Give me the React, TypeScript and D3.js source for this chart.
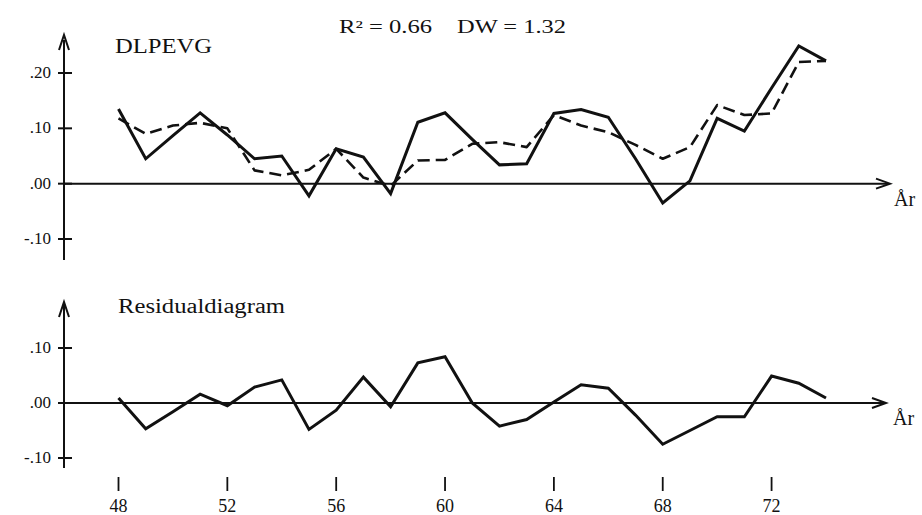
import React from "react";
import * as d3 from "d3";

const years = [48,49,50,51,52,53,54,55,56,57,58,59,60,61,62,63,64,65,66,67,68,69,70,71,72,73,74];
const actual = [0.135,0.045,0.087,0.128,0.088,0.045,0.05,-0.022,0.063,0.048,-0.018,0.111,0.128,0.08,0.034,0.036,0.127,0.134,0.12,0.045,-0.035,0.005,0.118,0.095,0.173,0.249,0.222];
const fitted = [0.118,0.09,0.105,0.11,0.1,0.024,0.015,0.025,0.063,0.011,-0.004,0.042,0.043,0.072,0.075,0.066,0.124,0.105,0.093,0.07,0.045,0.066,0.142,0.124,0.127,0.22,0.222];
const residuals = [0.009,-0.047,-0.016,0.016,-0.005,0.029,0.042,-0.048,-0.013,0.047,-0.007,0.073,0.084,0.0,-0.042,-0.03,0.002,0.033,0.027,-0.022,-0.075,-0.05,-0.025,-0.025,0.049,0.036,0.009];
const topTicks = [0.2,0.1,0,-0.1];
const topTickLabels = [".20",".10",".00","-.10"];
const botTicks = [0.1,0,-0.1];
const botTickLabels = [".10",".00","-.10"];
const xTicks = [48,52,56,60,64,68,72];
const xTickLabels = ["48","52","56","60","64","68","72"];

export default function App() {
  const x = d3.scaleLinear().domain([48, 74]).range([118.5, 826]);
  const yT = d3.scaleLinear().domain([-0.1, 0.2]).range([239, 73]);
  const yB = d3.scaleLinear().domain([-0.1, 0.1]).range([458, 348]);
  const lineT = d3.line<number>().x((_, i) => x(years[i])).y((d) => yT(d));
  const lineB = d3.line<number>().x((_, i) => x(years[i])).y((d) => yB(d));
  const font = "'Liberation Serif', 'DejaVu Serif', serif";
  const axisX = 64;
  const col = "#111";

  return (
    <svg width={922} height={515} style={{ position: "absolute", left: 0, top: 0, background: "#fff" }} fontFamily={font}>
      <rect width={922} height={515} fill="#fff" />
      {/* titles */}
      <text x={339} y={33} fontSize={18} fill={col} textLength={93} lengthAdjust="spacingAndGlyphs">R² = 0.66</text>
      <text x={457} y={33} fontSize={18} fill={col} textLength={109} lengthAdjust="spacingAndGlyphs">DW = 1.32</text>
      <text x={115} y={53} fontSize={22} fill={col} textLength={97} lengthAdjust="spacingAndGlyphs">DLPEVG</text>
      <text x={118} y={313} fontSize={20} fill={col} textLength={167} lengthAdjust="spacingAndGlyphs">Residualdiagram</text>

      {/* top axes */}
      <line x1={axisX} x2={axisX} y1={260} y2={40} stroke={col} strokeWidth={2} />
      <path d={`M${axisX - 5},${50} L${axisX},${35} L${axisX + 5},${50}`} fill="none" stroke={col} strokeWidth={2} />
      <line x1={axisX} x2={888} y1={yT(0)} y2={yT(0)} stroke={col} strokeWidth={2} />
      <path d={`M${876},${yT(0) - 5} L${890},${yT(0)} L${876},${yT(0) + 5}`} fill="none" stroke={col} strokeWidth={2} />
      <text x={894} y={yT(0) + 22} fontSize={20} fill={col}>År</text>
      {topTicks.map((t, i) => (
        <g key={"tt" + i}>
          <line x1={58} x2={72} y1={yT(t)} y2={yT(t)} stroke={col} strokeWidth={2} />
          <text x={51} y={yT(t) + 5} fontSize={17} textAnchor="end" fill={col}>{topTickLabels[i]}</text>
        </g>
      ))}
      <path d={lineT(fitted) || ""} fill="none" stroke={col} strokeWidth={2.6} strokeDasharray="12,6" strokeLinejoin="round" />
      <path d={lineT(actual) || ""} fill="none" stroke={col} strokeWidth={3} strokeLinejoin="miter" />

      {/* bottom axes */}
      <line x1={axisX} x2={axisX} y1={468} y2={305} stroke={col} strokeWidth={2} />
      <path d={`M${axisX - 5},${317} L${axisX},${302} L${axisX + 5},${317}`} fill="none" stroke={col} strokeWidth={2} />
      <line x1={axisX} x2={884} y1={yB(0)} y2={yB(0)} stroke={col} strokeWidth={2} />
      <path d={`M${872},${yB(0) - 5} L${886},${yB(0)} L${872},${yB(0) + 5}`} fill="none" stroke={col} strokeWidth={2} />
      <text x={893} y={yB(0) + 22} fontSize={20} fill={col}>År</text>
      {botTicks.map((t, i) => (
        <g key={"bt" + i}>
          <line x1={58} x2={72} y1={yB(t)} y2={yB(t)} stroke={col} strokeWidth={2} />
          <text x={51} y={yB(t) + 5} fontSize={17} textAnchor="end" fill={col}>{botTickLabels[i]}</text>
        </g>
      ))}
      <path d={lineB(residuals) || ""} fill="none" stroke={col} strokeWidth={3} />

      {/* x ticks */}
      {xTicks.map((t, i) => (
        <g key={"xt" + i}>
          <line x1={x(t)} x2={x(t)} y1={477} y2={491} stroke={col} strokeWidth={1.8} />
          <text x={x(t)} y={512} fontSize={18} textAnchor="middle" fill={col}>{xTickLabels[i]}</text>
        </g>
      ))}
    </svg>
  );
}
